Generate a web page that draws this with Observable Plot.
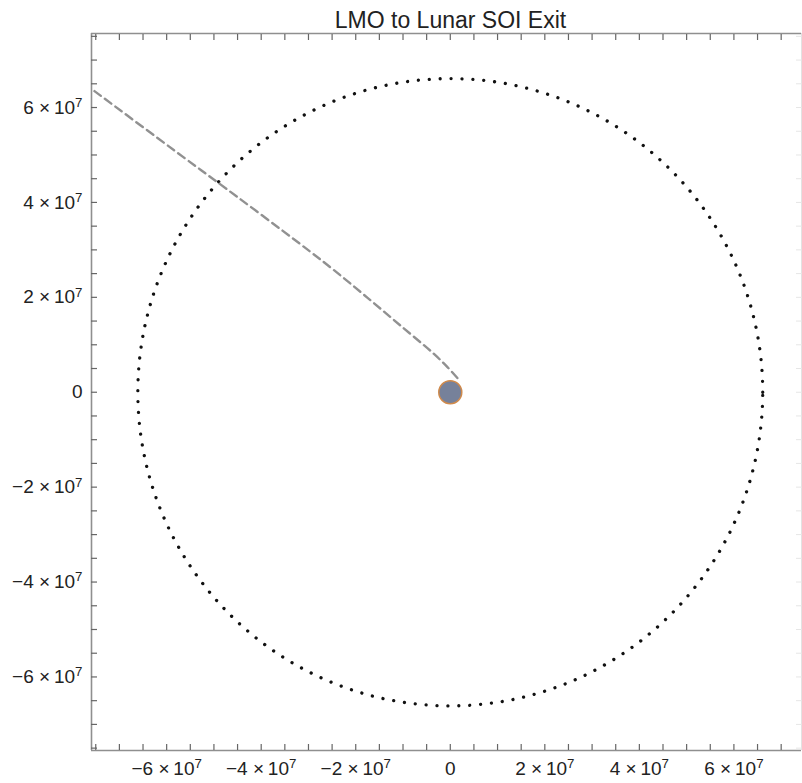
<!DOCTYPE html>
<html><head><meta charset="utf-8">
<script src="https://cdn.jsdelivr.net/npm/d3@7"></script>
<script src="https://cdn.jsdelivr.net/npm/@observablehq/plot@0.6"></script>
<style>
html,body{margin:0;padding:0;background:#fff;}
#chart svg{display:block;}
</style></head><body><div id="chart"></div>
<script>
const title = "LMO to Lunar SOI Exit";
const xDomain = [-7.59e7, 7.43e7];
const yDomain = [-7.55e7, 7.56e7];
const labeledTicks = [-6e7, -4e7, -2e7, 0, 2e7, 4e7, 6e7];
const xMinorTicks = [-7.5e7,-7e7,-6.5e7,-6e7,-5.5e7,-5e7,-4.5e7,-4e7,-3.5e7,-3e7,-2.5e7,-2e7,-1.5e7,-1e7,-0.5e7,0,0.5e7,1e7,1.5e7,2e7,2.5e7,3e7,3.5e7,4e7,4.5e7,5e7,5.5e7,6e7,6.5e7,7e7];
const yMinorTicks = [-7.5e7,-7e7,-6.5e7,-6e7,-5.5e7,-5e7,-4.5e7,-4e7,-3.5e7,-3e7,-2.5e7,-2e7,-1.5e7,-1e7,-0.5e7,0,0.5e7,1e7,1.5e7,2e7,2.5e7,3e7,3.5e7,4e7,4.5e7,5e7,5.5e7,6e7,6.5e7,7e7,7.5e7];
const soiRadius = 6.61e7;
const trajX = [0.15e7, -0.06e7, -0.36e7, -1.06e7, -1.75e7, -2.47e7, -3.17e7, -4.93e7, -5.64e7, -7.6e7];
const trajY = [0.30e7, 0.53e7, 0.82e7, 1.41e7, 1.99e7, 2.58e7, 3.12e7, 4.43e7, 4.95e7, 6.40e7];
const moonX = [0];
const moonY = [0];

const traj = trajX.map((x, i) => ({x, y: trajY[i]}));
const moon = moonX.map((x, i) => ({x, y: moonY[i]}));
const circle = d3.range(0, 361).map(a => ({x: soiRadius * Math.cos(a * Math.PI / 180), y: soiRadius * Math.sin(a * Math.PI / 180)}));

const fmt = v => v === 0 ? "0" : (v < 0 ? "\u2212" : "") + Math.abs(v / 1e7) + " \u00d7\u200910^7";
const frameColor = "#8f8f8f";
const tickColor = "#666";

const plot = Plot.plot({
  width: 802, height: 783,
  marginLeft: 91, marginRight: 1, marginTop: 33, marginBottom: 33,
  x: {domain: xDomain, label: null},
  y: {domain: yDomain, label: null},
  style: {fontFamily: "'Liberation Sans', Arial, sans-serif", background: "#fff", color: "#222"},
  marks: [
    Plot.line(circle, {x: "x", y: "y", stroke: "#111", strokeWidth: 3.3, strokeLinecap: "round", strokeDasharray: "0.01 10.9"}),
    Plot.line(traj, {x: "x", y: "y", stroke: "#919191", strokeWidth: 2.4, strokeDasharray: "8 5", curve: "catmull-rom", clip: true}),
    Plot.dot(moon, {x: "x", y: "y", r: 11.5, fill: "#76819a", stroke: "#cf8a4c", strokeWidth: 1.5}),
    Plot.ruleX([xDomain[0]], {stroke: frameColor, strokeWidth: 1.6}),
    Plot.ruleX([xDomain[1]], {stroke: "#e2e2e2", strokeWidth: 1}),
    Plot.ruleY([yDomain[0]], {stroke: frameColor, strokeWidth: 1.6}),
    Plot.ruleY([yDomain[1]], {stroke: frameColor, strokeWidth: 1.6}),
    Plot.axisX(xMinorTicks, {anchor: "bottom", tickSize: -6, fill: "none", stroke: tickColor, strokeWidth: 1.2, label: null}),
    Plot.axisX(xMinorTicks, {anchor: "top", tickSize: -6, fill: "none", stroke: tickColor, strokeWidth: 1.2, label: null}),
    Plot.axisY(yMinorTicks, {anchor: "left", tickSize: -6, fill: "none", stroke: tickColor, strokeWidth: 1.2, label: null}),
    Plot.axisY(yMinorTicks, {anchor: "right", tickSize: -6, fill: "none", stroke: "#e6e6e6", label: null}),
    Plot.axisX(labeledTicks, {anchor: "bottom", tickSize: 0, tickPadding: 11, tickFormat: fmt, fontSize: 19, fill: "#222", label: null}),
    Plot.axisY(labeledTicks, {anchor: "left", tickSize: 0, tickPadding: 9, tickFormat: fmt, fontSize: 19, fill: "#222", label: null}),
    Plot.text([title], {frameAnchor: "top", dx: 4, dy: -6, lineAnchor: "bottom", fontSize: 23, fill: "#222"})
  ]
});

d3.select(plot).selectAll("text").each(function() {
  const s = this.textContent;
  const i = s.indexOf("^");
  if (i < 0) return;
  const el = d3.select(this);
  el.text(null);
  el.append("tspan").text(s.slice(0, i));
  el.append("tspan").attr("dy", "-0.5em").attr("font-size", "0.7em").text(s.slice(i + 1));
});

document.getElementById("chart").appendChild(plot);
</script>
</body></html>
